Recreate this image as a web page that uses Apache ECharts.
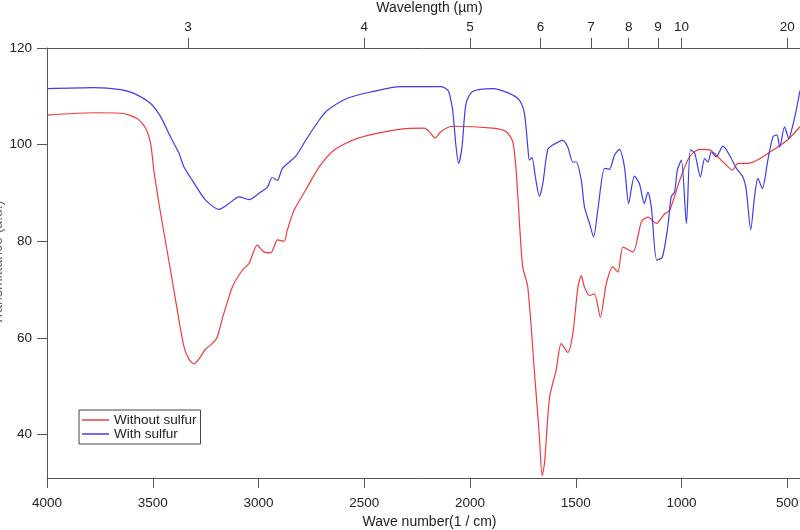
<!DOCTYPE html>
<html>
<head>
<meta charset="utf-8">
<script src="https://cdn.jsdelivr.net/npm/echarts@6/dist/echarts.min.js"></script>
<style>html,body{margin:0;padding:0;background:#fff}#c{width:800px;height:530px}</style>
</head>
<body>
<div id="c"></div>
<script>
// Wave numbers (1/cm) and transmittance values
const redWn = [4000,3779,3652,3574,3534,3510,3495,3463,3416,3384,3353,3329,3305,3282,3250,3219,3195,3171,3124,3077,3045,3006,2974,2942,2927,2911,2879,2864,2832,2777,2713,2642,2532,2343,2217,2193,2166,2137,2098,2074,1893,1830,1798,1782,1767,1751,1727,1696,1672,1659,1648,1624,1593,1569,1538,1514,1490,1474,1459,1435,1412,1384,1356,1325,1301,1277,1230,1190,1159,1119,1080,1056,1009,962,915,868,820,780,759,733,685,630,567,501,440];
const redVal = [106.1,106.6,106.5,105.4,103.4,100.2,94.7,85.8,74.0,65.7,58.3,55.6,54.6,55.6,57.7,58.8,60.2,64.0,70.5,74.0,75.4,79.2,77.8,77.6,78.8,80.3,80.0,82.3,86.4,90.6,95.4,98.9,101.3,103.1,103.4,102.7,101.4,102.7,103.7,103.8,103.4,102.7,100.6,94.7,84.3,74.7,70.5,53.3,39.4,31.5,34.0,47.7,53.3,58.8,57.0,60.9,70.5,72.9,70.5,68.8,69.1,64.3,71.2,74.7,73.6,78.8,77.8,84.0,85.0,83.7,85.7,86.4,92.6,97.5,99.0,98.9,97.1,95.4,94.7,96.1,96.1,97.1,98.9,100.9,103.7];
const blueWn = [4000,3779,3652,3589,3510,3463,3416,3376,3353,3313,3250,3187,3140,3092,3045,2990,2958,2935,2911,2887,2824,2777,2713,2674,2580,2469,2327,2137,2106,2098,2082,2066,2054,2038,2019,1988,1893,1814,1767,1743,1727,1719,1707,1691,1672,1656,1633,1609,1562,1538,1514,1498,1474,1459,1435,1416,1396,1364,1341,1317,1294,1270,1250,1223,1199,1176,1159,1143,1117,1091,1065,1049,1033,1020,1001,977,958,938,911,891,875,859,836,804,773,741,710,694,673,655,639,618,592,568,549,536,513,493,474,458,440];
const blueVal = [111.6,111.8,111.4,110.6,108.5,105.8,101.6,98.2,95.4,92.6,88.5,86.6,87.8,89.2,88.6,90.2,91.2,93.2,92.6,95.1,97.6,100.9,105.1,107.1,109.6,110.9,112.0,112.0,111.3,110.6,107.1,99.5,96.1,99.5,108.5,111.0,111.6,110.6,109.2,106.5,99.5,96.8,97.3,93.3,89.3,91.9,98.9,99.9,100.9,99.5,96.4,96.4,92.6,87.1,83.7,80.9,86.4,95.1,94.9,97.8,99.0,95.4,87.8,93.5,91.9,87.8,90.2,87.1,76.1,76.7,83.0,89.2,90.2,94.7,96.8,83.7,98.9,98.3,93.3,97.1,96.4,98.5,97.5,99.7,97.8,95.1,93.3,90.6,82.4,89.2,93.0,90.9,96.8,101.6,102.0,99.5,103.7,101.3,104.0,107.1,111.2];
const bottomTicks = [4000,3500,3000,2500,2000,1500,1000,500];
const topWavelengths = [3,4,5,6,7,8,9,10,20];
const yTicks = [40,60,80,100,120];
const seriesNames = ['Without sulfur','With sulfur'];

const font = 'Liberation Sans, Arial, sans-serif';
const axisCol = '#555';
const txtCol = '#222';
const toPairs = (xs, ys) => xs.map((x, i) => [x, ys[i]]);

const chart = echarts.init(document.getElementById('c'), null, {renderer: 'canvas'});
chart.setOption({
  animation: false,
  backgroundColor: '#fff',
  grid: {left: 47, right: 0, top: 48, bottom: 52, containLabel: false, outerBoundsMode: 'none'},
  legend: {
    orient: 'vertical', left: 79, top: 410,
    data: seriesNames,
    icon: 'rect', itemWidth: 27, itemHeight: 1.5, itemGap: 0,
    padding: [3, 4, 3, 3],
    borderColor: '#444', borderWidth: 1,
    textStyle: {fontFamily: font, fontSize: 13.5, color: txtCol, lineHeight: 14}
  },
  xAxis: [{
    type: 'value', min: 440, max: 4000, inverse: true, position: 'bottom',
    name: 'Wave number(1 / cm)', nameLocation: 'middle', nameGap: 37, nameMoveOverlap: false,
    nameTextStyle: {fontFamily: font, fontSize: 14, color: txtCol, padding: [0, 0, 0, 12]},
    axisLine: {show: true, lineStyle: {color: axisCol, width: 1}},
    axisTick: {show: true, length: 10, customValues: bottomTicks, lineStyle: {color: axisCol}},
    axisLabel: {customValues: bottomTicks, margin: 18, fontFamily: font, fontSize: 13.5, color: txtCol,
      formatter: v => String(v)},
    splitLine: {show: false}
  }, {
    type: 'value', min: 440, max: 4000, inverse: true, position: 'top',
    name: 'Wavelength (µm)', nameLocation: 'middle', nameGap: 33, nameMoveOverlap: false,
    nameTextStyle: {fontFamily: font, fontSize: 14, color: txtCol, padding: [0, 0, 0, 12]},
    axisLine: {show: true, lineStyle: {color: axisCol, width: 1}},
    axisTick: {show: true, length: 10, customValues: topWavelengths.map(l => 10000 / l), lineStyle: {color: axisCol}},
    axisLabel: {customValues: topWavelengths.map(l => 10000 / l), margin: 14, fontFamily: font, fontSize: 13.5, color: txtCol,
      formatter: v => String(Math.round(10000 / v))},
    splitLine: {show: false}
  }],
  yAxis: {
    type: 'value', min: 31, max: 120,
    name: 'Transmittance (a.u.)', nameLocation: 'middle', nameGap: 42, nameRotate: 90, nameMoveOverlap: false,
    nameTextStyle: {fontFamily: font, fontSize: 14, color: '#666'},
    axisLine: {show: true, lineStyle: {color: axisCol, width: 1}},
    axisTick: {show: true, length: 10, customValues: yTicks, lineStyle: {color: axisCol}},
    axisLabel: {customValues: yTicks, margin: 15, fontFamily: font, fontSize: 13.5, color: txtCol,
      formatter: v => String(v)},
    splitLine: {show: false}
  },
  series: [{
    name: seriesNames[0], type: 'line', xAxisIndex: 0, data: toPairs(redWn, redVal),
    showSymbol: false, smooth: 0.25, lineStyle: {color: '#f03c3c', width: 1.2}, itemStyle: {color: '#f03c3c'}
  }, {
    name: seriesNames[1], type: 'line', xAxisIndex: 0, data: toPairs(blueWn, blueVal),
    showSymbol: false, smooth: 0.25, lineStyle: {color: '#3c3cf0', width: 1.2}, itemStyle: {color: '#3c3cf0'}
  }]
});
</script>
</body>
</html>
